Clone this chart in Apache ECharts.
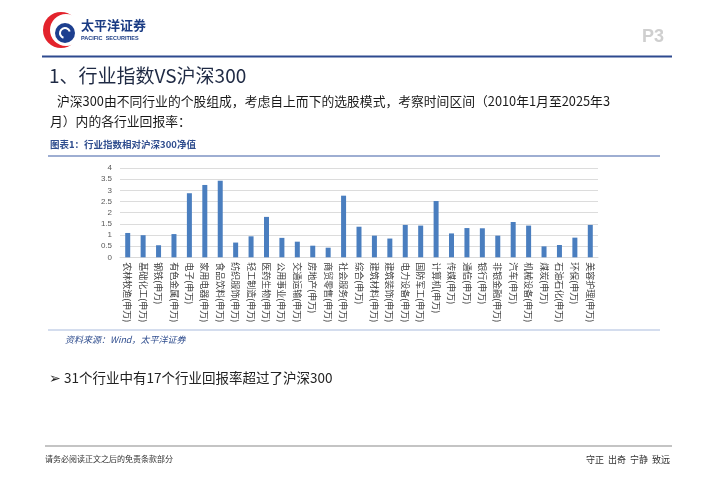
<!DOCTYPE html>
<html>
<head>
<meta charset="utf-8">
<script src="https://cdn.jsdelivr.net/npm/echarts@6/dist/echarts.min.js"></script>
<style>
html,body{margin:0;padding:0;background:#fff;}
#c{width:720px;height:482px;}
</style>
</head>
<body>
<div id="c"></div>
<script>
var categories = ['农林牧渔(申万)','基础化工(申万)','钢铁(申万)','有色金属(申万)','电子(申万)','家用电器(申万)','食品饮料(申万)','纺织服饰(申万)','轻工制造(申万)','医药生物(申万)','公用事业(申万)','交通运输(申万)','房地产(申万)','商贸零售(申万)','社会服务(申万)','综合(申万)','建筑材料(申万)','建筑装饰(申万)','电力设备(申万)','国防军工(申万)','计算机(申万)','传媒(申万)','通信(申万)','银行(申万)','非银金融(申万)','汽车(申万)','机械设备(申万)','煤炭(申万)','石油石化(申万)','环保(申万)','美容护理(申万)'];
var values = [1.09,0.99,0.54,1.04,2.87,3.24,3.43,0.66,0.94,1.81,0.87,0.70,0.52,0.43,2.76,1.37,0.97,0.84,1.45,1.42,2.52,1.07,1.31,1.30,0.97,1.58,1.42,0.49,0.55,0.88,1.45];
var yTicks = [0,0.5,1,1.5,2,2.5,3,3.5,4];

var titleText = '1、行业指数VS沪深300';
var paraLine1 = '沪深300由不同行业的个股组成，考虑自上而下的选股模式，考察时间区间（2010年1月至2025年3';
var paraLine2 = '月）内的各行业回报率：';
var captionText = '图表1：行业指数相对沪深300净值';
var sourceText = '资料来源：Wind，太平洋证券';
var bulletText = '➢ 31个行业中有17个行业回报率超过了沪深300';
var footerLeft = '请务必阅读正文之后的免责条款部分';
var footerRight = '守正  出奇  宁静  致远';

var CJK = '"Noto Sans CJK SC","Noto Sans",sans-serif';
var chart = echarts.init(document.getElementById('c'));
chart.setOption({
  animation:false,
  backgroundColor:'#fff',
  textStyle:{fontFamily:CJK},
  grid:{left:120,right:122,top:168,bottom:224.7,containLabel:false},
  xAxis:{
    type:'category',
    data:categories,
    axisLine:{show:true,lineStyle:{color:'#d9d9d9'}},
    axisTick:{show:false},
    axisLabel:{rotate:-90,interval:0,fontSize:9,color:'#404040',margin:5,fontFamily:CJK}
  },
  yAxis:{
    type:'value',min:yTicks[0],max:yTicks[yTicks.length-1],interval:0.5,
    axisLine:{show:false},axisTick:{show:false},
    axisLabel:{fontSize:8,color:'#595959',margin:8,fontFamily:'"Liberation Sans",sans-serif',
      formatter:function(v){return String(v);}},
    splitLine:{lineStyle:{color:'#dcdcdc',width:1}}
  },
  series:[{type:'bar',data:values,barWidth:5,itemStyle:{color:'#4a7ebf'}}],
  graphic:[
    {type:'circle',shape:{cx:61,cy:30,r:18},style:{fill:'#e3232c'},z:10},
    {type:'circle',shape:{cx:66,cy:30,r:16},style:{fill:'#fff'},z:11},
    {type:'circle',shape:{cx:65,cy:33,r:10},style:{fill:'#1d3f8f'},z:12},
    {type:'arc',shape:{cx:65,cy:33,r:5,startAngle:Math.PI*0.6,endAngle:Math.PI*1.9},style:{stroke:'#fff',lineWidth:2,fill:null},z:13},
    {type:'text',left:81,top:19,z:14,style:{text:'太平洋证券',fill:'#1b3c84',font:'bold 13px '+CJK}},
    {type:'text',left:81,top:35,z:14,style:{text:'PACIFIC  SECURITIES',fill:'#1b3c84',font:'bold 5.5px "Liberation Sans",sans-serif'}},
    {type:'text',left:642,top:28,z:14,style:{text:'P3',fill:'#cfcfcf',font:'bold 18px "Liberation Sans",sans-serif'}},
    {type:'line',shape:{x1:42,y1:56.5,x2:672,y2:56.5},style:{stroke:'#2e4a8f',lineWidth:2}},
    {type:'text',left:49,top:66,style:{text:titleText,fill:'#1f2a44',font:'19px '+CJK}},
    {type:'text',left:57,top:95,style:{text:paraLine1,fill:'#1a1a1a',font:'12.8px '+CJK}},
    {type:'text',left:50,top:115,style:{text:paraLine2,fill:'#1a1a1a',font:'12.8px '+CJK}},
    {type:'text',left:50,top:140,style:{text:captionText,fill:'#2f4d8e',font:'bold 9.5px '+CJK}},
    {type:'line',shape:{x1:48,y1:156,x2:660,y2:156},style:{stroke:'#9eaed2',lineWidth:2}},
    {type:'line',shape:{x1:48,y1:330,x2:660,y2:330},style:{stroke:'#c6d2e8',lineWidth:1.5}},
    {type:'text',left:65,top:335,style:{text:sourceText,fill:'#2f4d8e',font:'italic 9px '+CJK}},
    {type:'text',left:49,top:371,style:{text:bulletText,fill:'#222',font:'13.5px '+CJK}},
    {type:'line',shape:{x1:45,y1:446,x2:672,y2:446},style:{stroke:'#c4c4c4',lineWidth:2}},
    {type:'text',left:45,top:455,style:{text:footerLeft,fill:'#333',font:'8px '+CJK}},
    {type:'text',right:50,top:455,style:{text:footerRight,fill:'#333',font:'9px '+CJK}}
  ]
});
</script>
</body>
</html>
